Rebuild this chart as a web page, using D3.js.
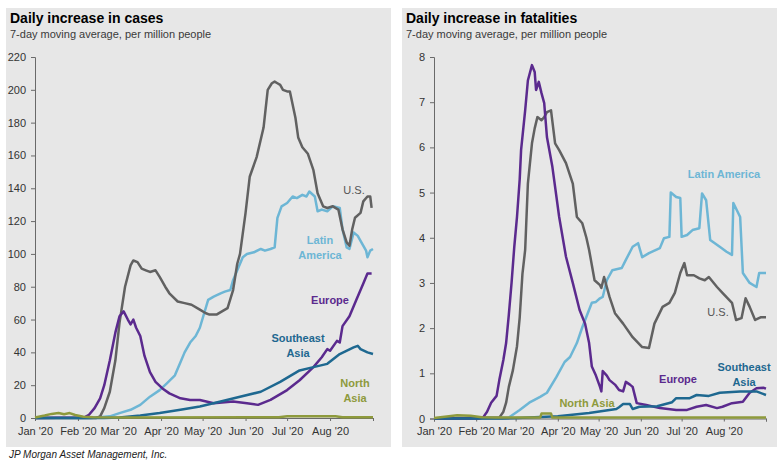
<!DOCTYPE html>
<html>
<head>
<meta charset="utf-8">
<script src="https://cdn.jsdelivr.net/npm/d3@7"></script>
<style>
  body { margin: 0; background: #fff; }
  svg { display: block; font-family: "Liberation Sans", Arial, sans-serif; }
</style>
</head>
<body>
<svg id="chart" width="777" height="461"></svg>
<script>
// --- data ---
const months = ["2020-01-01","2020-02-01","2020-03-01","2020-04-01","2020-05-01","2020-06-01","2020-07-01","2020-08-01","2020-09-01"]
const caseTicks = [0,20,40,60,80,100,120,140,160,180,200,220]
const deathTicks = [0,1,2,3,4,5,6,7,8]

const usCases = [["01-01",0],["02-14",0],["02-17",1],["02-20",6],["02-24",16],["02-28",35],["03-02",58],["03-06",80],["03-10",93],["03-12",96],["03-15",95],["03-18",91],["03-21",90],["03-24",89],["03-28",90],["03-31",86],["04-04",80],["04-07",76],["04-13",71],["04-18",70],["04-23",69],["04-29",66],["05-03",64],["05-06",63],["05-11",63],["05-15",65],["05-19",67],["05-23",78],["05-26",94],["05-28",100],["06-01",125],["06-04",147],["06-09",159],["06-14",177],["06-17",200],["06-20",204],["06-22",205],["06-24",204],["06-26",203],["06-28",200],["07-01",199],["07-03",199],["07-07",183],["07-09",171],["07-12",165],["07-14",163],["07-16",161],["07-20",151],["07-23",137],["07-27",129],["07-30",128],["08-03",129],["08-07",127],["08-10",115],["08-13",107],["08-15",105],["08-17",115],["08-19",122],["08-23",125],["08-25",132],["08-28",135],["08-30",135],["08-31",128]]
const latamCases = [["01-01",0],["02-10",0],["02-17",0.5],["02-24",1],["03-02",3],["03-10",5],["03-17",8],["03-24",13],["03-31",17],["04-05",21],["04-11",26],["04-15",34],["04-18",40],["04-22",46],["04-26",50],["04-29",55],["05-05",72],["05-09",74],["05-14",76],["05-17",77],["05-21",78],["05-23",84],["05-26",90],["05-30",98],["06-02",100],["06-07",101],["06-12",103],["06-15",102],["06-19",103],["06-22",104],["06-24",122],["06-27",129],["07-01",131],["07-05",135],["07-08",134],["07-12",136],["07-15",135],["07-17",138],["07-21",135],["07-23",126],["07-26",127],["07-30",126],["08-03",129],["08-08",128],["08-10",115],["08-13",104],["08-15",103],["08-18",113],["08-21",111],["08-23",108],["08-27",102],["08-28",98],["08-30",102],["09-01",103]]
const europeCases = [["01-01",0],["02-02",0.3],["02-06",0.5],["02-09",2],["02-13",6],["02-17",12],["02-20",20],["02-24",35],["02-28",52],["03-02",62],["03-05",65],["03-08",60],["03-10",57],["03-12",60],["03-14",55],["03-17",50],["03-20",38],["03-24",28],["03-28",22],["04-02",18],["04-07",15],["04-15",12],["04-22",11],["04-29",11],["05-09",9],["05-23",10],["06-02",9],["06-10",8],["06-19",11],["07-01",17],["07-10",23],["07-20",31],["07-26",37],["07-30",42],["08-01",41],["08-06",47],["08-08",46],["08-10",56],["08-15",62],["08-20",72],["08-25",82],["08-28",88],["08-31",88]]
const seAsiaCases = [["01-01",0],["02-20",0],["03-02",0.3],["03-17",1.5],["03-31",3],["04-15",5],["04-29",7],["05-14",10],["05-28",13],["06-12",16],["06-26",22],["07-10",29],["07-20",31],["07-30",33],["08-08",39],["08-18",43],["08-21",44],["08-23",42],["08-28",40],["09-01",39]]
const northAsiaCases = [["01-01",0.3],["01-08",1.5],["01-13",2.5],["01-18",3],["01-22",2.3],["01-26",3],["01-30",1.8],["02-05",0.8],["02-12",0.4],["03-01",0.3],["06-25",0.5],["07-01",1],["08-05",1],["08-10",0.5],["09-01",0.5]]

const usDeaths = [["01-01",0],["02-18",0.02],["02-21",0.15],["02-23",0.35],["02-25",0.7],["02-28",1.07],["03-02",1.6],["03-04",2.24],["03-06",3.2],["03-08",3.73],["03-10",5.2],["03-13",6.09],["03-15",6.42],["03-17",6.67],["03-20",6.6],["03-22",6.67],["03-24",6.78],["03-27",6.82],["03-30",6.09],["04-02",5.94],["04-07",5.65],["04-12",5.2],["04-15",4.46],["04-19",4.32],["04-22",4.0],["04-24",3.73],["04-28",3.06],["05-02",2.95],["05-03",2.89],["05-05",3.13],["05-09",2.69],["05-13",2.33],["05-19",2.1],["05-26",1.8],["06-02",1.58],["06-07",1.56],["06-11",2.1],["06-17",2.47],["06-22",2.56],["06-26",2.78],["06-30",3.22],["07-03",3.44],["07-05",3.17],["07-10",3.17],["07-14",3.1],["07-18",3.06],["07-21",3.13],["07-27",2.91],["07-31",2.78],["08-07",2.56],["08-10",2.18],["08-14",2.22],["08-17",2.66],["08-20",2.47],["08-24",2.18],["08-28",2.24],["09-01",2.24]]
const latamDeaths = [["01-01",0],["02-25",0.02],["03-04",0.19],["03-11",0.35],["03-19",0.48],["03-24",0.57],["03-31",0.92],["04-06",1.25],["04-10",1.36],["04-15",1.67],["04-19",2.02],["04-23",2.33],["04-26",2.56],["04-29",2.58],["05-02",2.66],["05-04",2.69],["05-07",3.06],["05-11",3.28],["05-18",3.33],["05-21",3.51],["05-26",3.8],["05-30",3.88],["06-02",3.57],["06-07",3.66],["06-15",3.77],["06-18",3.99],["06-22",4.02],["06-23",5.0],["06-27",4.9],["06-30",4.88],["07-01",4.02],["07-05",4.06],["07-09",4.17],["07-14",4.21],["07-16",4.98],["07-19",4.83],["07-22",3.95],["07-29",3.8],["08-03",3.69],["08-07",3.62],["08-08",4.77],["08-13",4.46],["08-15",3.22],["08-20",3.0],["08-25",2.91],["08-27",3.22],["09-01",3.22]]
const europeDeaths = [["01-01",0],["02-03",0],["02-06",0.02],["02-09",0.15],["02-12",0.35],["02-16",0.5],["02-18",0.85],["02-21",1.3],["02-23",1.67],["02-25",2.3],["02-27",3.0],["02-29",3.8],["03-02",4.46],["03-04",5.3],["03-05",5.94],["03-08",6.82],["03-10",7.48],["03-13",7.82],["03-15",7.67],["03-16",7.27],["03-18",7.45],["03-20",7.2],["03-22",6.98],["03-24",6.23],["03-28",5.57],["04-02",4.46],["04-07",3.58],["04-12",3.0],["04-17",2.4],["04-21",2.1],["04-24",1.67],["04-26",1.15],["04-29",0.95],["05-02",0.7],["05-03",0.6],["05-04",1.05],["05-07",0.95],["05-09",0.85],["05-13",0.75],["05-16",0.63],["05-19",0.6],["05-21",0.81],["05-24",0.75],["05-26",0.7],["05-29",0.34],["06-05",0.3],["06-15",0.23],["06-27",0.19],["07-05",0.19],["07-12",0.26],["07-19",0.3],["07-27",0.23],["07-31",0.26],["08-07",0.34],["08-15",0.37],["08-20",0.57],["08-25",0.67],["08-30",0.68],["09-01",0.66]]
const seAsiaDeaths = [["01-01",0],["02-20",0],["03-02",0.01],["04-01",0.05],["04-24",0.12],["05-14",0.21],["05-16",0.25],["05-19",0.32],["05-24",0.32],["05-26",0.21],["05-31",0.26],["06-13",0.27],["06-24",0.36],["06-27",0.45],["07-07",0.45],["07-12",0.52],["07-21",0.5],["07-29",0.57],["08-13",0.6],["08-25",0.6],["09-01",0.52]]
const northAsiaDeaths = [["01-01",0.01],["01-12",0.05],["01-18",0.07],["01-28",0.06],["02-05",0.03],["02-15",0.02],["03-19",0.02],["03-20",0.11],["03-27",0.11],["03-28",0.02],["09-01",0.02]]

// colours
const colors = { us: "#616161", latam: "#6db6d5", europe: "#5b2a8e", seAsia: "#1e6890", northAsia: "#8e9a3c" }

const parse = d3.timeParse("%Y-%m-%d")
const toPts = arr => arr.map(d => ({ date: parse("2020-" + d[0]), v: d[1] }))

const svg = d3.select("#chart")

function panel(opt) {
    const g = svg.append("g")

    g.append("rect")
        .attr("x", opt.box[0]).attr("y", opt.box[1])
        .attr("width", opt.box[2]).attr("height", opt.box[3])
        .attr("fill", "#e7e7e7")

    g.append("text")
        .attr("x", opt.box[0] + 4).attr("y", 23)
        .attr("font-size", 14).attr("font-weight", "bold").attr("fill", "#000")
        .text(opt.title)
    g.append("text")
        .attr("x", opt.box[0] + 4).attr("y", 38)
        .attr("font-size", 11).attr("fill", "#3a3a3a")
        .text("7-day moving average, per million people")

    const x = d3.scaleTime()
        .domain([parse(months[0]), parse(months[months.length - 1])])
        .range(opt.xr)
    const y = d3.scaleLinear().domain(opt.ydom).range(opt.yr)

    // y axis
    const ya = g.append("g")
        .attr("transform", "translate(" + opt.xr[0] + ",0)")
        .call(d3.axisLeft(y).tickValues(opt.yticks).tickSize(4).tickPadding(5))
    // x axis
    const xa = g.append("g")
        .attr("transform", "translate(0," + opt.yr[0] + ")")
        .call(d3.axisBottom(x).tickValues(months.map(parse)).tickSize(3).tickPadding(6)
            .tickFormat((d, i) => i == months.length - 1 ? "" : d3.timeFormat("%b '%y")(d)))
    for (const a of [ya, xa]) {
        a.select(".domain").attr("stroke", "#6a6a6a")
        a.selectAll(".tick line").attr("stroke", "#6a6a6a")
        a.selectAll("text").attr("font-size", 11).attr("fill", "#333")
            .attr("font-family", "Liberation Sans, Arial, sans-serif")
    }

    const line = d3.line().x(d => x(d.date)).y(d => y(d.v))

    for (const s of opt.series) {
        g.append("path")
            .datum(toPts(s.data))
            .attr("fill", "none")
            .attr("stroke", s.color)
            .attr("stroke-width", 2.5)
            .attr("stroke-linejoin", "round")
            .attr("d", line)
    }

    for (const l of opt.labels) {
        const t = g.append("text")
            .attr("x", l.x).attr("y", l.y)
            .attr("text-anchor", "middle")
            .attr("font-size", 11)
            .attr("font-weight", l.bold ? "bold" : "normal")
            .attr("fill", l.color)
        l.lines.forEach((s, i) => {
            t.append("tspan").attr("x", l.x).attr("dy", i == 0 ? 0 : 15).text(s)
        })
    }
}

panel({
    title: "Daily increase in cases",
    box: [6, 8, 385, 439],
    xr: [35, 373], yr: [418, 57], ydom: [0, 220], yticks: caseTicks,
    series: [
        { data: latamCases, color: colors.latam },
        { data: usCases, color: colors.us },
        { data: europeCases, color: colors.europe },
        { data: seAsiaCases, color: colors.seAsia },
        { data: northAsiaCases, color: colors.northAsia }
    ],
    labels: [
        { lines: ["U.S."], x: 354, y: 194, color: "#555", bold: false },
        { lines: ["Latin", "America"], x: 320, y: 244, color: colors.latam, bold: true },
        { lines: ["Europe"], x: 330, y: 304, color: colors.europe, bold: true },
        { lines: ["Southeast", "Asia"], x: 298, y: 342, color: colors.seAsia, bold: true },
        { lines: ["North", "Asia"], x: 355, y: 387, color: colors.northAsia, bold: true }
    ]
})

panel({
    title: "Daily increase in fatalities",
    box: [402, 8, 375, 439],
    xr: [434, 766], yr: [418.5, 57], ydom: [0, 8], yticks: deathTicks,
    series: [
        { data: latamDeaths, color: colors.latam },
        { data: usDeaths, color: colors.us },
        { data: europeDeaths, color: colors.europe },
        { data: seAsiaDeaths, color: colors.seAsia },
        { data: northAsiaDeaths, color: colors.northAsia }
    ],
    labels: [
        { lines: ["Latin America"], x: 724, y: 178, color: colors.latam, bold: true },
        { lines: ["U.S."], x: 718, y: 316, color: "#555", bold: false },
        { lines: ["Southeast", "Asia"], x: 744, y: 371, color: colors.seAsia, bold: true },
        { lines: ["Europe"], x: 678, y: 383, color: colors.europe, bold: true },
        { lines: ["North Asia"], x: 587, y: 407, color: colors.northAsia, bold: true }
    ]
})

svg.append("text")
    .attr("x", 9).attr("y", 458)
    .attr("font-size", 10).attr("font-style", "italic").attr("fill", "#222")
    .text("JP Morgan Asset Management, Inc.")
</script>
</body>
</html>
